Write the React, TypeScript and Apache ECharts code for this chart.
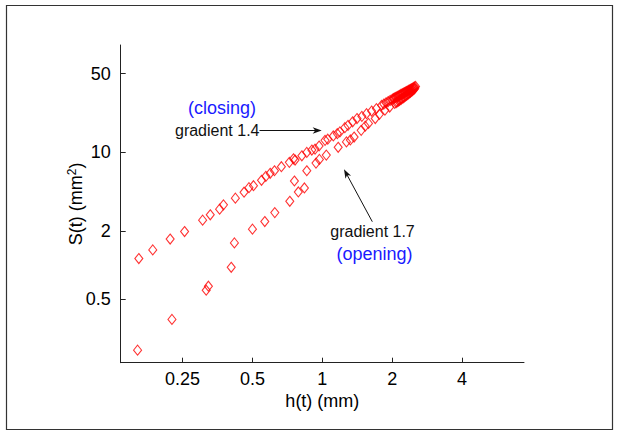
import React, { useEffect, useRef } from "react";
import * as echarts from "echarts";

// closing phase (upper branch) — h(t) in mm, S(t) in mm^2
const closingH = [0.162, 0.186, 0.221, 0.255, 0.305, 0.329, 0.361, 0.375, 0.422, 0.46, 0.483, 0.505, 0.547, 0.571, 0.596, 0.622, 0.666, 0.721, 0.751, 0.763, 0.816, 0.857, 0.901, 0.93, 0.968, 1.027, 1.055, 1.115, 1.16, 1.19, 1.25, 1.29, 1.35, 1.41, 1.48, 1.55, 1.63, 1.71, 1.8, 1.84, 1.88, 1.92, 1.96, 2.0, 2.02, 2.04, 2.06, 2.08, 2.1, 2.12, 2.14, 2.16, 2.18, 2.2, 2.22, 2.24, 2.26, 2.28, 2.3, 2.32, 2.34, 2.36, 2.38, 2.4, 2.42, 2.44, 2.46, 2.48, 2.5, 2.52];
const closingS = [1.14, 1.36, 1.7, 1.98, 2.5, 2.79, 3.13, 3.42, 3.92, 4.43, 4.86, 5.06, 5.65, 6.13, 6.52, 6.87, 7.46, 8.16, 8.78, 8.55, 9.33, 10.0, 10.5, 10.7, 11.4, 12.8, 13.1, 14.0, 14.7, 15.2, 16.6, 17.4, 18.7, 20.0, 20.9, 22.1, 23.3, 24.5, 26.2, 26.9, 27.6, 28.3, 29.0, 29.6, 30.0, 30.3, 30.7, 31.0, 31.3, 31.6, 32.0, 32.3, 32.7, 33.0, 33.3, 33.6, 34.0, 34.3, 34.6, 35.0, 35.3, 35.7, 36.0, 36.4, 36.7, 37.1, 37.4, 37.8, 38.2, 38.6];

// opening phase (lower branch)
const openingH = [0.16, 0.225, 0.316, 0.323, 0.405, 0.418, 0.5, 0.565, 0.624, 0.724, 0.788, 0.837, 0.758, 0.857, 0.939, 0.971, 1.04, 1.17, 1.27, 1.32, 1.37, 1.47, 1.53, 1.58, 1.69, 1.76, 1.86, 1.95, 2.05, 2.08, 2.1, 2.13, 2.15, 2.18, 2.2, 2.23, 2.25, 2.28, 2.3, 2.33, 2.35, 2.38, 2.4, 2.43, 2.45, 2.48, 2.5];
const openingS = [0.175, 0.328, 0.596, 0.647, 0.953, 1.57, 2.08, 2.43, 2.92, 3.68, 4.45, 4.83, 5.57, 6.87, 8.04, 8.67, 9.47, 11.1, 12.4, 12.9, 13.7, 15.7, 17.1, 18.1, 20.0, 21.8, 23.7, 25.3, 27.2, 27.7, 28.1, 28.6, 29.0, 29.5, 30.0, 30.5, 31.0, 31.6, 32.1, 32.6, 33.2, 33.8, 34.4, 35.0, 35.6, 36.3, 37.0];

const xTicks = [0.25, 0.5, 1, 2, 4];
const yTicks = [0.5, 2, 10, 50];

const FONT = "'Liberation Sans', Arial, Helvetica, sans-serif";

function tickFormatter(ticks: number[]) {
  return (v: number) => {
    const t = ticks.find((k) => Math.abs(Math.log(k) - v) < 1e-6);
    return t !== undefined ? String(t) : "";
  };
}

function arrowHead(tx: number, ty: number, fx: number, fy: number, len: number, half: number) {
  const dx = tx - fx;
  const dy = ty - fy;
  const d = Math.hypot(dx, dy);
  const ux = dx / d;
  const uy = dy / d;
  const bx = tx - ux * len;
  const by = ty - uy * len;
  return [
    [tx, ty],
    [bx - uy * half, by + ux * half],
    [bx + ux * 2.5, by + uy * 2.5],
    [bx + uy * half, by - ux * half],
  ];
}

export default function App() {
  const ref = useRef<HTMLDivElement>(null);
  useEffect(() => {
    if (!ref.current) return;
    const chart = echarts.init(ref.current, null, { renderer: "svg" });
    const toLn = (h: number[], s: number[]) => h.map((v, i) => [Math.log(v), Math.log(s[i])]);
    const marker = {
      type: "scatter" as const,
      symbol: "diamond",
      symbolSize: [8, 10],
      itemStyle: { color: "rgba(0,0,0,0)", borderColor: "#ff0000", borderWidth: 1.1 },
      emphasis: { disabled: true },
    };
    const a1 = { x1: 259.5, y1: 130.5, x2: 321.7, y2: 130.5 };
    const a2 = { x1: 372.3, y1: 221.7, x2: 344, y2: 169.3 };
    chart.setOption({
      animation: false,
      grid: { left: 120.7, right: 95, top: 45, bottom: 69.3 },
      xAxis: {
        type: "value",
        min: -2,
        max: 2,
        name: "h(t) (mm)",
        nameLocation: "middle",
        nameGap: 29,
        nameMoveOverlap: false,
        nameTextStyle: { color: "#000", fontSize: 18, fontFamily: FONT },
        axisLine: { show: true, onZero: false, lineStyle: { color: "#222", width: 1 } },
        axisTick: { show: true, inside: true, length: 5, lineStyle: { color: "#222" }, customValues: xTicks.map((t) => Math.log(t)) },
        axisLabel: { color: "#000", fontSize: 18, fontFamily: FONT, margin: 7, customValues: xTicks.map((t) => Math.log(t)), formatter: tickFormatter(xTicks) },
        splitLine: { show: false },
      },
      yAxis: {
        type: "value",
        min: -2,
        max: 4.5,
        name: "S(t) (mm{sup|2})",
        nameLocation: "middle",
        nameGap: 35,
        nameRotate: 90,
        nameMoveOverlap: false,
        nameTextStyle: {
          color: "#000",
          fontSize: 18,
          fontFamily: FONT,
          rich: { sup: { fontSize: 12, fontFamily: FONT, color: "#000", verticalAlign: "top", padding: [0, 0, 8, 0] } },
        },
        axisLine: { show: true, onZero: false, lineStyle: { color: "#222", width: 1 } },
        axisTick: { show: true, inside: true, length: 5, lineStyle: { color: "#222" }, customValues: yTicks.map((t) => Math.log(t)) },
        axisLabel: { color: "#000", fontSize: 18, fontFamily: FONT, margin: 10, customValues: yTicks.map((t) => Math.log(t)), formatter: tickFormatter(yTicks) },
        splitLine: { show: false },
      },
      series: [
        { ...marker, name: "closing", data: toLn(closingH, closingS) },
        { ...marker, name: "opening", data: toLn(openingH, openingS) },
      ],
      graphic: [
        { type: "rect", shape: { x: 6.5, y: 5.5, width: 606, height: 424 }, style: { fill: "none", stroke: "#333", lineWidth: 1.2 }, silent: true },
        { type: "text", x: 222, y: 108, style: { text: "(closing)", fontSize: 18, fontFamily: FONT, fill: "#1a1aff", align: "center", verticalAlign: "middle" } },
        { type: "text", x: 259.5, y: 130.5, style: { text: "gradient 1.4", fontSize: 16, fontFamily: FONT, fill: "#111", align: "right", verticalAlign: "middle" } },
        { type: "text", x: 372.5, y: 231, style: { text: "gradient 1.7", fontSize: 16, fontFamily: FONT, fill: "#111", align: "center", verticalAlign: "middle" } },
        { type: "text", x: 374.5, y: 254, style: { text: "(opening)", fontSize: 18, fontFamily: FONT, fill: "#1a1aff", align: "center", verticalAlign: "middle" } },
        { type: "line", shape: { x1: a1.x1, y1: a1.y1, x2: a1.x2 - 6, y2: a1.y2 }, style: { stroke: "#111", lineWidth: 1 } },
        { type: "polygon", shape: { points: arrowHead(a1.x2, a1.y2, a1.x1, a1.y1, 9, 3.2) }, style: { fill: "#111" } },
        { type: "line", shape: { x1: a2.x1, y1: a2.y1, x2: a2.x2 + 2.5, y2: a2.y2 + 4.6 }, style: { stroke: "#111", lineWidth: 1 } },
        { type: "polygon", shape: { points: arrowHead(a2.x2, a2.y2, a2.x1, a2.y1, 9, 3.2) }, style: { fill: "#111" } },
      ],
    });
    return () => chart.dispose();
  }, []);
  return <div ref={ref} style={{ position: "absolute", left: 0, top: 0, width: 619, height: 432, background: "#fff" }} />;
}
